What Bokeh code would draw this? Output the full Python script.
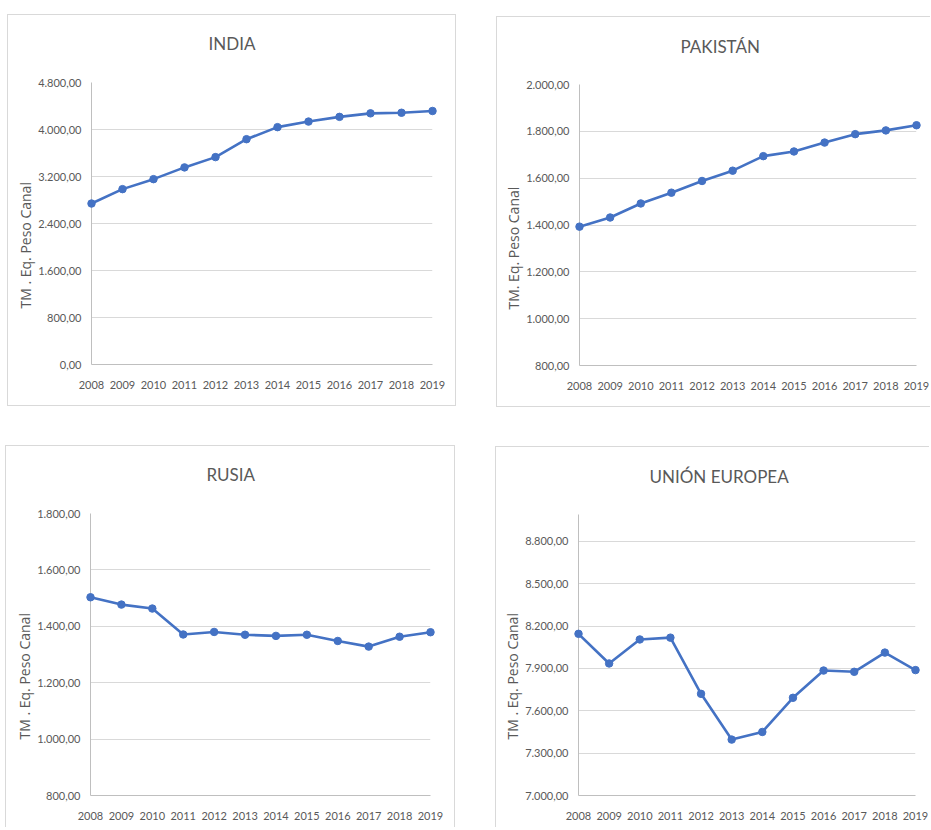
from bokeh.plotting import figure
from bokeh.models import Range1d, FixedTicker, Title
from bokeh.layouts import column, row
from bokeh.embed import file_html
from bokeh.resources import INLINE

# ---- data ----
years = [2008, 2009, 2010, 2011, 2012, 2013, 2014, 2015, 2016, 2017, 2018, 2019]

india = [2740, 2985, 3155, 3355, 3530, 3835, 4040, 4135, 4215, 4275, 4285, 4315]
pakistan = [1393, 1432, 1492, 1538, 1588, 1632, 1694, 1714, 1752, 1788, 1804, 1826]
rusia = [1503, 1477, 1463, 1371, 1380, 1370, 1366, 1370, 1348, 1328, 1363, 1379]
ue = [8145, 7935, 8105, 8118, 7720, 7396, 7450, 7692, 7885, 7876, 8012, 7888]

titles = ["INDIA", "PAKISTÁN", "RUSIA", "UNIÓN EUROPEA"]
ylabels = ["TM . Eq. Peso Canal", "TM. Eq. Peso Canal",
           "TM . Eq. Peso Canal", "TM . Eq. Peso Canal"]
yticks_india = [0, 800, 1600, 2400, 3200, 4000, 4800]
yticks_pak = [800, 1000, 1200, 1400, 1600, 1800, 2000]
yticks_rus = [800, 1000, 1200, 1400, 1600, 1800]
yticks_ue = [7000, 7300, 7600, 7900, 8200, 8500, 8800]

BLUE = "#4472C4"
GRAY_TXT = "#595959"
FONT = "Lato"
BOX = "#d9d9d9"


def box_style(sides):
    # chart-area border drawn 8px below the top of the figure element
    g = f"linear-gradient({BOX},{BOX})"
    pos = {"top": "0 8px", "left": "0 8px", "right": "100% 8px", "bottom": "0 100%"}
    size = {"top": "100% 1px", "left": "1px 100%", "right": "1px 100%", "bottom": "100% 1px"}
    return {
        "background-image": ", ".join([g] * len(sides)),
        "background-position": ", ".join(pos[s] for s in sides),
        "background-size": ", ".join(size[s] for s in sides),
        "background-repeat": "no-repeat",
    }


def make_panel(title, ylabel, values, yticks, ymin, ymax, width, height,
               mb_left, mb_right, mb_top, mb_bottom, title_offset,
               x_standoff, margin, sides):
    p = figure(width=width, height=height, output_backend="svg",
               toolbar_location=None, x_range=Range1d(2008, 2019),
               y_range=Range1d(ymin, ymax), min_border_left=mb_left,
               min_border_right=mb_right, min_border_top=mb_top,
               min_border_bottom=mb_bottom, title=None, margin=margin)
    p.background_fill_color = None
    p.border_fill_color = None
    p.outline_line_color = None
    p.styles = box_style(sides)

    t = Title(text=title, align="left", offset=title_offset,
              vertical_align="top", standoff=mb_top - 23,
              text_font=FONT, text_font_size="17px",
              text_font_style="normal", text_color=GRAY_TXT)
    p.add_layout(t, "above")

    yl = Title(text=ylabel, align="left", offset=56, vertical_align="middle",
               standoff=0, text_font="Open Sans", text_font_size="14px",
               text_font_style="normal", text_color=GRAY_TXT)
    p.add_layout(yl, "left")

    # x axis
    p.xaxis.ticker = FixedTicker(ticks=years)
    p.xaxis.major_label_overrides = {y: str(y) for y in years}
    p.xaxis.major_tick_line_color = None
    p.xaxis.minor_tick_line_color = None
    p.xaxis.major_tick_out = 0
    p.xaxis.major_tick_in = 0
    p.xaxis.axis_line_color = "#bfbfbf"
    p.xaxis.major_label_standoff = x_standoff
    p.xaxis.major_label_text_font = FONT
    p.xaxis.major_label_text_font_size = "11px"
    p.xaxis.major_label_text_color = GRAY_TXT

    # y axis
    p.yaxis.ticker = FixedTicker(ticks=yticks)
    p.yaxis.major_label_overrides = {v: f"{v:,.2f}".replace(",", "X").replace(".", ",").replace("X", ".") for v in yticks}
    p.yaxis.major_tick_line_color = None
    p.yaxis.minor_tick_line_color = None
    p.yaxis.major_tick_out = 0
    p.yaxis.major_tick_in = 0
    p.yaxis.axis_line_color = "#bfbfbf"
    p.yaxis.major_label_standoff = 10
    p.yaxis.major_label_text_font = FONT
    p.yaxis.major_label_text_font_size = "11px"
    p.yaxis.major_label_text_color = GRAY_TXT

    p.xgrid.grid_line_color = None
    p.ygrid.grid_line_color = "#d9d9d9"
    p.ygrid.grid_line_width = 1

    p.line(years, values, line_color=BLUE, line_width=2.6)
    p.scatter(years, values, size=7.5, fill_color=BLUE, line_color=BLUE,
              level="annotation")
    return p


p1 = make_panel(titles[0], ylabels[0], india, yticks_india, 0, 4800,
                449, 400, 84, 24, 76, 42, 117, 16, (6, 0, 0, 7),
                ["top", "left", "right", "bottom"])
p2 = make_panel(titles[1], ylabels[1], pakistan, yticks_pak, 800, 2000,
                434, 399, 83, 14, 75, 41, 101, 16, (8, 0, 0, 40),
                ["top", "left", "bottom"])
p3 = make_panel(titles[2], ylabels[2], rusia, yticks_rus, 800, 1800,
                450, 390, 85, 25, 76, 32, 116, 16, (30, 0, 0, 5),
                ["top", "left", "right"])
p4 = make_panel(titles[3], ylabels[3], ue, yticks_ue, 7000, 8990,
                434, 389, 83, 14, 75, 32, 71, 16, (31, 0, 0, 40),
                ["top", "left"])

layout = column(row(p1, p2), row(p3, p4))
open("out.html", "w").write(file_html(layout, INLINE))
